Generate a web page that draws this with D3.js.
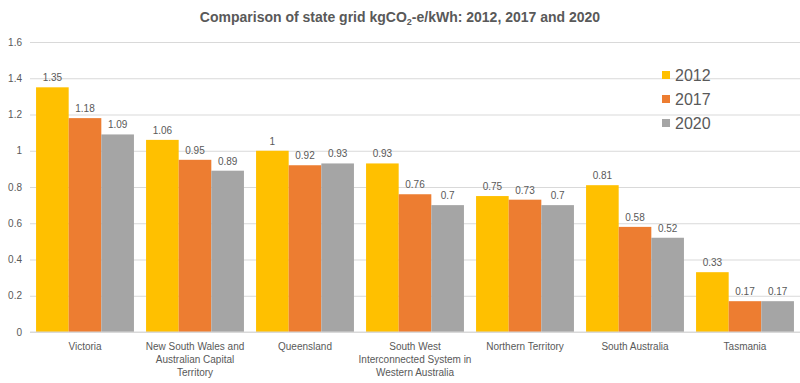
<!doctype html>
<html>
<head>
  <script src="https://cdnjs.cloudflare.com/ajax/libs/d3/7.8.5/d3.min.js"></script>
  <style>
    body { margin: 0; background: #fff; }
    svg { display: block; font-family: "Liberation Sans", Arial, sans-serif; }
  </style>
</head>
<body>
<svg id="chart" width="800" height="383"></svg>
<script>
  // chart data
  var states = [
    ["Victoria"],
    ["New South Wales and", "Australian Capital", "Territory"],
    ["Queensland"],
    ["South West", "Interconnected System in", "Western Australia"],
    ["Northern Territory"],
    ["South Australia"],
    ["Tasmania"]
  ];
  var years = ["2012", "2017", "2020"];
  var v2012 = [1.35, 1.06, 1, 0.93, 0.75, 0.81, 0.33];
  var v2017 = [1.18, 0.95, 0.92, 0.76, 0.73, 0.58, 0.17];
  var v2020 = [1.09, 0.89, 0.93, 0.7, 0.7, 0.52, 0.17];
  var yTicks = [0, 0.2, 0.4, 0.6, 0.8, 1, 1.2, 1.4, 1.6];
  var colors = ["#FFC000", "#ED7D31", "#A5A5A5"];

  var series = [v2012, v2017, v2020];
  var svg = d3.select("#chart");
  var textCol = "#595959";

  var x = d3.scaleBand().domain(d3.range(states.length)).range([30, 800]).paddingInner(0.11).paddingOuter(0.055);
  var x1 = d3.scaleBand().domain(years).range([0, x.bandwidth()]);
  var y = d3.scaleLinear().domain([0, 1.6]).range([332, 42]);

  // gridlines + y labels
  var yAxis = d3.axisLeft(y).tickValues(yTicks).tickSize(-770).tickFormat(d3.format("~g"));
  var gy = svg.append("g").attr("transform", "translate(30,0)").call(yAxis);
  gy.select(".domain").remove();
  gy.selectAll("line").attr("stroke", "#d9d9d9");
  gy.selectAll("text").attr("fill", textCol).attr("font-size", 10).attr("x", -8);

  // bars
  var groups = svg.append("g").selectAll("g")
    .data(d3.range(states.length)).enter().append("g")
    .attr("transform", function (i) { return "translate(" + x(i) + ",0)"; });

  years.forEach(function (yr, k) {
    groups.append("rect")
      .attr("x", x1(yr))
      .attr("width", x1.bandwidth())
      .attr("y", function (i) { return y(series[k][i]); })
      .attr("height", function (i) { return y(0) - y(series[k][i]); })
      .attr("fill", colors[k]);
    groups.append("text")
      .attr("x", x1(yr) + x1.bandwidth() / 2)
      .attr("y", function (i) { return y(series[k][i]) - 6; })
      .attr("text-anchor", "middle")
      .attr("font-size", 10)
      .attr("fill", textCol)
      .text(function (i) { return series[k][i]; });
  });

  // baseline
  svg.append("line").attr("x1", 30).attr("x2", 800).attr("y1", y(0)).attr("y2", y(0)).attr("stroke", "#d9d9d9");

  // x labels
  var xl = svg.append("g").selectAll("text").data(states).enter().append("text")
    .attr("text-anchor", "middle")
    .attr("font-size", 10)
    .attr("fill", textCol)
    .attr("transform", function (d, i) { return "translate(" + (x(i) + x.bandwidth() / 2) + ",350)"; });
  xl.selectAll("tspan").data(function (d) { return d; }).enter().append("tspan")
    .attr("x", 0).attr("y", function (d, j) { return j * 13; }).text(function (d) { return d; });

  // title
  var t = svg.append("text").attr("x", 400).attr("y", 22).attr("text-anchor", "middle")
    .attr("font-size", 14).attr("font-weight", "bold").attr("fill", textCol);
  t.append("tspan").text("Comparison of state grid kgCO");
  t.append("tspan").attr("font-size", 9).attr("dy", 3).text("2");
  t.append("tspan").attr("dy", -3).text("-e/kWh: 2012, 2017 and 2020");

  // legend
  var lg = svg.append("g").selectAll("g").data(years).enter().append("g")
    .attr("transform", function (d, i) { return "translate(662," + (75 + i * 24) + ")"; });
  lg.append("rect").attr("x", 0).attr("y", -4).attr("width", 8).attr("height", 8)
    .attr("fill", function (d, i) { return colors[i]; });
  lg.append("text").attr("x", 13).attr("y", 6).attr("font-size", 16).attr("fill", textCol)
    .text(function (d) { return d; });
</script>
</body>
</html>
